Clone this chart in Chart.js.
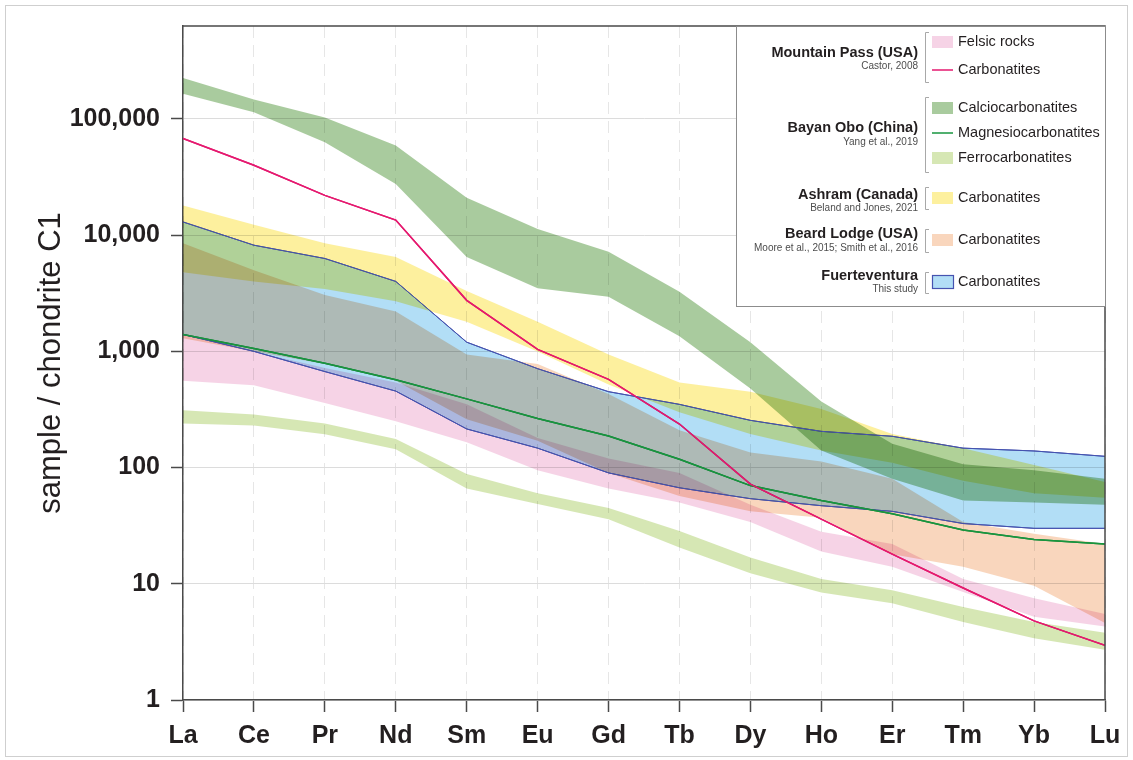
<!DOCTYPE html>
<html>
<head>
<meta charset="utf-8">
<script src="https://cdn.jsdelivr.net/npm/chart.js@4.4.1/dist/chart.umd.min.js"></script>
<style>
html,body{margin:0;padding:0;background:#fff;}
#wrap{position:relative;width:1133px;height:760px;}
</style>
</head>
<body>
<div id="wrap"><canvas id="c" width="1133" height="760"></canvas></div>
<script>
// ---- data (chondrite-normalised REE) ----
const categories = ['La','Ce','Pr','Nd','Sm','Eu','Gd','Tb','Dy','Ho','Er','Tm','Yb','Lu'];
const yTicks = [1, 10, 100, 1000, 10000, 100000];

// Mountain Pass (USA)
const felsicMax = [1400, 1000, 720, 540, 350, 180, 120, 90, 48, 28, 22, 11, 7.5, 5.5];
const felsicMin = [560, 510, 360, 250, 165, 95, 66, 50, 34, 19, 14, 8.5, 5.2, 4.3];
const mpCarbonatites = [68000, 40000, 22000, 13500, 2750, 1040, 575, 237, 72, 36, 18, 9.2, 4.8, 2.95];

// Bayan Obo (China)
const calcioMax = [225000, 147000, 103000, 59000, 21000, 11300, 7200, 3260, 1200, 370, 160, 107, 95, 80];
const calcioMin = [165000, 114000, 63000, 27500, 6500, 3500, 2950, 1350, 480, 140, 80, 52, 50, 48];
const magnesio = [1400, 1060, 790, 570, 390, 265, 187, 118, 70, 52, 40, 29, 24, 22];
const ferroMax = [312, 287, 240, 176, 88, 60, 45, 28.5, 16.8, 11, 8.8, 6.3, 4.7, 3.8];
const ferroMin = [240, 230, 194, 144, 66, 48.5, 36, 20.5, 12.3, 8.4, 6.8, 4.7, 3.4, 2.7];

// Ashram (Canada)
const ashramMax = [18000, 12300, 8500, 6500, 3300, 1800, 940, 540, 450, 320, 195, 147, 105, 75];
const ashramMin = [4800, 4000, 3450, 2700, 1800, 1000, 520, 300, 195, 140, 110, 77, 60, 55];

// Beard Lodge (USA)
const beardMax = [8500, 5000, 3050, 2200, 940, 780, 430, 210, 135, 113, 80, 34, 27, 22];
const beardMin = [1300, 1000, 780, 560, 260, 170, 90, 57, 42, 37, 18, 14, 9.6, 4.6];

// Fuerteventura (this study)
const fuerteMax = [13000, 8200, 6300, 4000, 1200, 710, 450, 350, 255, 205, 186, 147, 139, 125];
const fuerteMin = [1400, 1000, 670, 455, 215, 147, 90, 67, 54, 47, 42, 33, 30, 30];

// ---- styles ----
const FONT = "'Liberation Sans', Arial, Helvetica, sans-serif";
const TXT = '#231f20';
const COL = {
  felsic: '#f6d3e6', mpLine: '#e5196f', calcio: '#a9cb9e', mg: '#17963f',
  ferro: '#d6e7b4', ashram: '#fdf09e', beard: '#f9d6bd', fuerte: '#b2def6', fuerteLine: '#4653b0'
};
Chart.defaults.font.family = FONT;
Chart.defaults.color = TXT;

function band(label, upper, lower, color, border) {
  const bw = border ? 1 : 0;
  const bc = border || 'rgba(0,0,0,0)';
  return [
    {label: label + ' (max)', data: upper, backgroundColor: color, borderColor: bc, borderWidth: bw, fill: '+1', pointRadius: 0, tension: 0, _stroke: !!border},
    {label: label + ' (min)', data: lower, backgroundColor: color, borderColor: bc, borderWidth: bw, fill: false, pointRadius: 0, tension: 0, _stroke: !!border}
  ];
}
function line(label, data, color) {
  return {label, data, borderColor: color, backgroundColor: color, borderWidth: 1.5, fill: false, pointRadius: 0, tension: 0, _stroke: true};
}

const datasets = [
  line('Mountain Pass carbonatites', mpCarbonatites, COL.mpLine),
  line('Magnesiocarbonatites', magnesio, COL.mg),
  ...band('Fuerteventura carbonatites', fuerteMax, fuerteMin, COL.fuerte, COL.fuerteLine),
  ...band('Beard Lodge carbonatites', beardMax, beardMin, COL.beard),
  ...band('Ashram carbonatites', ashramMax, ashramMin, COL.ashram),
  ...band('Felsic rocks', felsicMax, felsicMin, COL.felsic),
  ...band('Calciocarbonatites', calcioMax, calcioMin, COL.calcio),
  ...band('Ferrocarbonatites', ferroMax, ferroMin, COL.ferro)
];

// ---- legend layout ----
const legendGroups = [
  {title: 'Mountain Pass (USA)', cite: 'Castor, 2008', ty: 57, cy: 69, br: [32, 82],
   items: [{t: 'box', c: COL.felsic, y: 42, s: 'Felsic rocks'}, {t: 'line', c: COL.mpLine, y: 70, s: 'Carbonatites'}]},
  {title: 'Bayan Obo (China)', cite: 'Yang et al., 2019', ty: 132, cy: 145, br: [97, 172],
   items: [{t: 'box', c: COL.calcio, y: 108, s: 'Calciocarbonatites'}, {t: 'line', c: COL.mg, y: 133, s: 'Magnesiocarbonatites'}, {t: 'box', c: COL.ferro, y: 158, s: 'Ferrocarbonatites'}]},
  {title: 'Ashram (Canada)', cite: 'Beland and Jones, 2021', ty: 199, cy: 211, br: [187, 209],
   items: [{t: 'box', c: COL.ashram, y: 198, s: 'Carbonatites'}]},
  {title: 'Beard Lodge (USA)', cite: 'Moore et al., 2015; Smith et al., 2016', ty: 238, cy: 251, br: [229, 252],
   items: [{t: 'box', c: COL.beard, y: 240, s: 'Carbonatites'}]},
  {title: 'Fuerteventura', cite: 'This study', ty: 280, cy: 292, br: [272, 293],
   items: [{t: 'box', c: COL.fuerte, b: COL.fuerteLine, y: 282, s: 'Carbonatites'}]}
];

const decorPlugin = {
  id: 'decor',
  beforeDraw(chart) {
    const c = chart.ctx;
    c.save();
    c.fillStyle = '#fff';
    c.fillRect(0, 0, chart.width, chart.height);
    c.strokeStyle = '#cfcfcf';
    c.lineWidth = 1;
    c.strokeRect(5.5, 5.5, 1122, 751);
    c.restore();
  },
  beforeDatasetsDraw(chart) {
    chart.ctx.save();
    chart.ctx.globalCompositeOperation = 'multiply';
  },
  afterDatasetsDraw(chart) {
    chart.ctx.restore();
    // re-stroke the outline / line series in normal compositing so they keep their colour
    const c = chart.ctx;
    const a = chart.chartArea;
    c.save();
    c.beginPath();
    c.rect(a.left, a.top - 2, a.right - a.left, a.bottom - a.top + 4);
    c.clip();
    for (let i = chart.data.datasets.length - 1; i >= 0; i--) {
      if (!chart.data.datasets[i]._stroke) continue;
      chart.getDatasetMeta(i).dataset.draw(c, a);
    }
    c.restore();
  },
  afterDraw(chart) {
    const c = chart.ctx;
    const a = chart.chartArea;
    c.save();
    // top & right frame
    c.strokeStyle = '#4a4a4a';
    c.lineWidth = 1.5;
    c.beginPath();
    c.moveTo(a.left, a.top);
    c.lineTo(a.right, a.top);
    c.lineTo(a.right, a.bottom);
    c.stroke();
    // legend box
    const lx = 736, ly = a.top, lw = 370, lh = 280;
    c.fillStyle = '#fff';
    c.fillRect(lx, ly, lw, lh);
    c.strokeStyle = '#8c8c8c';
    c.lineWidth = 1;
    c.strokeRect(lx + 0.5, ly + 0.5, lw - 1, lh);
    legendGroups.forEach(g => {
      c.fillStyle = TXT;
      c.textAlign = 'right';
      c.textBaseline = 'alphabetic';
      c.font = 'bold 14.5px ' + FONT;
      c.fillText(g.title, 918, g.ty);
      c.fillStyle = '#4d4d4d';
      c.font = '10px ' + FONT;
      c.fillText(g.cite, 918, g.cy);
      // bracket
      c.strokeStyle = '#a8a8a8';
      c.lineWidth = 1;
      c.beginPath();
      c.moveTo(929, g.br[0] + 0.5);
      c.lineTo(925.5, g.br[0] + 0.5);
      c.lineTo(925.5, g.br[1] + 0.5);
      c.lineTo(929, g.br[1] + 0.5);
      c.stroke();
      g.items.forEach(it => {
        if (it.t === 'box') {
          c.fillStyle = it.c;
          c.fillRect(932, it.y - 6, 21, 12);
          if (it.b) {
            c.strokeStyle = it.b;
            c.lineWidth = 1.2;
            c.strokeRect(932.5, it.y - 6.5, 21, 13);
          }
        } else {
          c.strokeStyle = it.c;
          c.lineWidth = 1.5;
          c.beginPath();
          c.moveTo(932, it.y);
          c.lineTo(953, it.y);
          c.stroke();
        }
        c.fillStyle = TXT;
        c.textAlign = 'left';
        c.textBaseline = 'middle';
        c.font = '14.5px ' + FONT;
        c.fillText(it.s, 958, it.y);
      });
    });
    c.restore();
  }
};

new Chart(document.getElementById('c'), {
  type: 'line',
  data: {labels: categories, datasets},
  plugins: [decorPlugin],
  options: {
    responsive: false,
    animation: false,
    devicePixelRatio: 1,
    layout: {padding: {top: 23, right: 28, left: 0, bottom: 0}},
    plugins: {legend: {display: false}, tooltip: {enabled: false}},
    elements: {line: {tension: 0}},
    scales: {
      x: {
        type: 'category',
        offset: false,
        afterFit: s => { s.height = 60; },
        grid: {color: '#e6e6e6', lineWidth: 1, tickColor: '#4a4a4a', tickLength: 12, tickWidth: 1.5},
        border: {display: true, color: '#4a4a4a', width: 1.5, dash: [12, 7]},
        ticks: {font: {size: 25, weight: 'bold'}, color: TXT, padding: 9, maxRotation: 0, autoSkip: false}
      },
      y: {
        type: 'logarithmic',
        min: 1,
        max: Math.pow(10, 5.8),
        afterFit: s => { s.width = 183; },
        afterBuildTicks: s => { s.ticks = yTicks.map(v => ({value: v})); },
        grid: {color: '#dcdcdc', lineWidth: 1, tickColor: '#4a4a4a', tickLength: 12, tickWidth: 1.5},
        border: {display: true, color: '#4a4a4a', width: 1.5},
        ticks: {font: {size: 25, weight: 'bold'}, color: TXT, padding: 11,
                callback: v => Number(v).toLocaleString('en-US')},
        title: {display: true, text: 'sample / chondrite C1', color: TXT,
                font: {size: 31, weight: 'normal'}, padding: {top: 33, bottom: 0}}
      }
    }
  }
});
</script>
</body>
</html>
